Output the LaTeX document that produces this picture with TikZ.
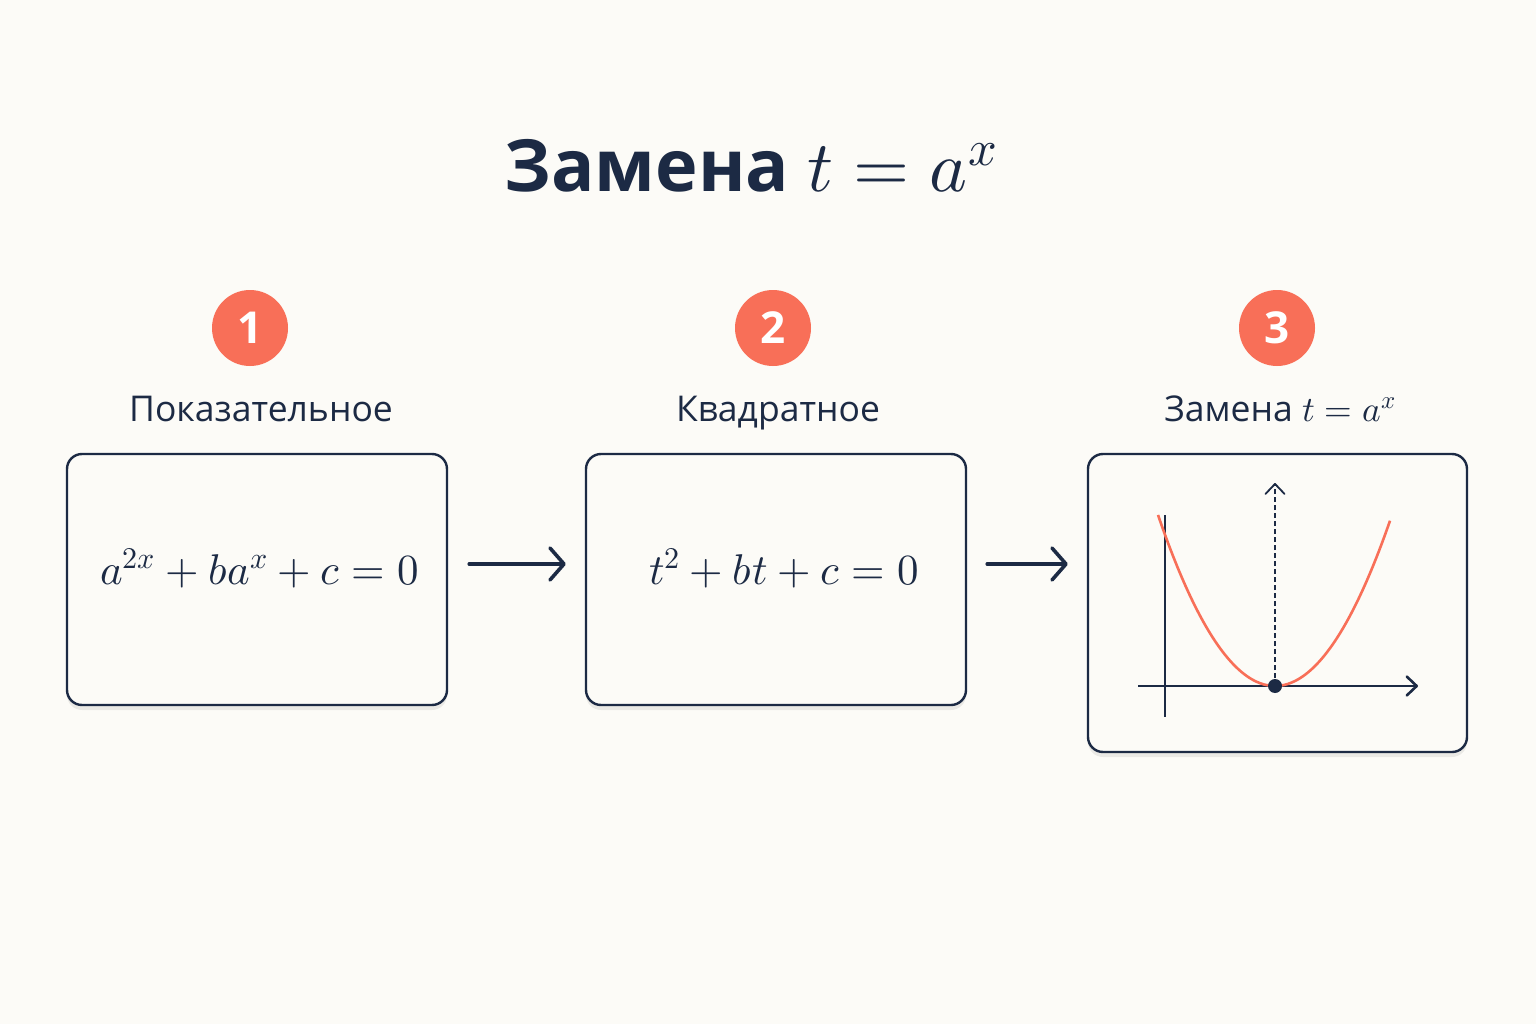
\documentclass[tikz,border=0pt]{standalone}
\usepackage{amsmath}
\usepackage{fontspec}
\usepackage{unicode-math}
\setmainfont{Open Sans}
\setsansfont{Open Sans}
\setmathfont{Latin Modern Math}
\usetikzlibrary{arrows.meta,shadows,positioning}
\definecolor{navy}{HTML}{1C2A44}
\definecolor{coral}{HTML}{F86F58}
\definecolor{paper}{HTML}{FCFBF7}

\begin{document}
\begin{tikzpicture}[x=1pt,y=-1pt,
                    step box/.style={draw=navy,line width=2.4pt,rounded corners=15pt,
                        fill=paper,minimum width=380pt,
                        drop shadow={shadow xshift=0pt,shadow yshift=-5pt,opacity=0.07,fill=black}},
                    num/.style={circle,fill=coral,text=white,minimum size=76pt,inner sep=0pt,
                        font=\fontsize{44}{44}\selectfont\bfseries},
                    lbl/.style={anchor=base,text=navy,inner sep=0pt,font=\fontsize{35.5}{35.5}\selectfont},
                    eq/.style={anchor=base,text=navy,inner sep=0pt,font=\fontsize{43}{43}\selectfont},
                    arr/.style={draw=navy,line width=3.6pt,line cap=round,
                        -{Straight Barb[length=14pt,width=32pt,line cap=round,round]}},
                    tip/.style={-{Straight Barb[length=10pt,width=19pt,round]}}]
    % background
    \fill[paper] (0,0) rectangle (1536,1024);
    \useasboundingbox (0,0) rectangle (1536,1024);
    % title
    \node (title) [anchor=base,text=navy,inner sep=0pt,font=\fontsize{72}{72}\selectfont\bfseries]
        at (751,192) {Замена $t = a^x$};
    % numbers
    \node (n1) [num] at (250,328) {1};
    \node (n2) [num] at (773,328) {2};
    \node (n3) [num] at (1277,328) {3};
    % labels
    \node (l1) [lbl] at (261,421) {Показательное};
    \node (l2) [lbl] at (778,421) {Квадратное};
    \node (l3) [lbl] at (1280,421) {Замена $t = a^x$};
    % boxes
    \node (box1) [step box,minimum height=251pt] at (257,579.5) {};
    \node (box2) [step box,minimum height=251pt] at (776,579.5) {};
    \node (box3) [step box,minimum width=379pt,minimum height=298pt] at (1277.5,603) {};
    % equations
    \node (eq1) [eq] at (259.5,584) {$a^{2x}+ba^{x}+c=0$};
    \node (eq2) [eq] at (784,584) {$t^{2}+bt+c=0$};
    % arrows
    \draw[arr,shorten <=21pt,shorten >=19pt] ([yshift=15.5pt]box1.east) -- ([yshift=15.5pt]box2.west);
    \draw[arr,shorten <=20pt,shorten >=19pt] ([yshift=15.5pt]box2.east) -- ([yshift=39pt]box3.west);
    % graph
    \coordinate (vx) at (1275,686);
    \coordinate (ytop) at (1165,515);
    \coordinate (ybot) at (1165,717);
    \coordinate (xl) at (1138,686);
    \coordinate (xr) at (1418,686);
    \coordinate (dtop) at (1275,483);
    \draw[navy,line width=2.6pt] (ytop) -- (ybot);
    \draw[navy,line width=2.6pt,tip] (xl) -- (xr);
    \draw[navy,line width=1.8pt,dash pattern=on 5pt off 3pt,tip] (vx) -- (dtop);
    \draw[coral,line width=2.6pt,smooth,samples=60,domain=-117:115]
        plot ({1275+\x},{686-0.01249*\x*\x});
    \fill[navy] (vx) circle (7pt);
\end{tikzpicture}
\end{document}
